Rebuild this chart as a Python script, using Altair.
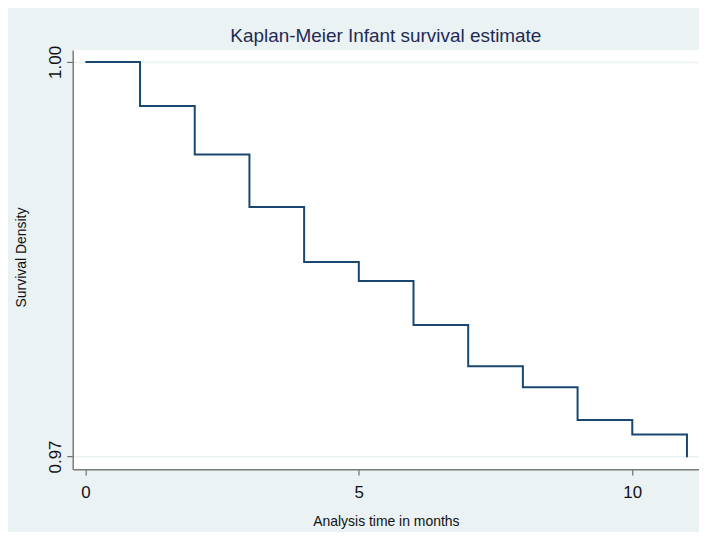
import altair as alt
import pandas as pd

# Analysis time (months) and Kaplan-Meier survival estimate
months = [0, 1, 2, 3, 4, 5, 6, 7, 8, 9, 10, 11]
survival = [1.00000, 0.99665, 0.99296, 0.98897, 0.98478, 0.98335,
            0.97999, 0.97686, 0.97527, 0.97277, 0.97167, 0.96995]

x_ticks = [0, 5, 10]
y_ticks = [0.97, 1.00]

df = pd.DataFrame({"month": months, "surv": survival})

BG = "#EAF2F3"
FONT = "Liberation Sans"

chart = alt.Chart(df).mark_line(
    interpolate="step-after", color="#1A476F", strokeWidth=2
).encode(
    x=alt.X(
        "month:Q",
        scale=alt.Scale(domain=[-0.231, 11.22], nice=False, zero=False),
        axis=alt.Axis(
            values=x_ticks, format="d", grid=False,
            title="Analysis time in months",
            domainColor="#7a7a7a", domainWidth=1.5,
            tickColor="#555555", tickSize=6, tickWidth=1,
            labelFontSize=17, labelColor="#111111", labelFont=FONT,
            labelBaseline="alphabetic", labelPadding=22,
            titleFontSize=14, titleFont=FONT, titleColor="#111111",
            titleFontWeight="normal", titleBaseline="alphabetic",
            titleX=314.5, titleY=57, titleAlign="center",
        ),
    ),
    y=alt.Y(
        "surv:Q",
        scale=alt.Scale(domain=[0.96904, 1.00091], nice=False, zero=False),
        axis=alt.Axis(
            values=y_ticks, format=".2f", grid=True,
            gridColor=BG, gridWidth=1.5,
            title="Survival Density",
            domainColor="#7a7a7a", domainWidth=1.5,
            tickColor="#555555", tickSize=6, tickWidth=1,
            labelFontSize=17, labelColor="#111111", labelFont=FONT,
            labelAngle=270, labelAlign="center", labelBaseline="alphabetic",
            labelPadding=6,
            titleFontSize=14, titleFont=FONT, titleColor="#111111",
            titleFontWeight="normal", titleAngle=270,
            titleBaseline="alphabetic", titleAlign="center",
            titleX=-47, titleY=208,
        ),
    ),
).properties(
    width=629,
    height=421,
    title=alt.TitleParams(
        "Kaplan-Meier Infant survival estimate",
        fontSize=19, font=FONT, color="#1F2A55", fontWeight="normal",
        anchor="middle", frame="group", baseline="alphabetic", offset=4,
        dy=20,
    ),
    background=BG,
    padding={"left": 65, "top": 41, "right": 0, "bottom": 62},
    autosize=alt.AutoSizeParams(type="none"),
).configure_view(
    fill="white", stroke=None
)

chart.save("out.html", embed_options={"renderer": "svg", "actions": False})
